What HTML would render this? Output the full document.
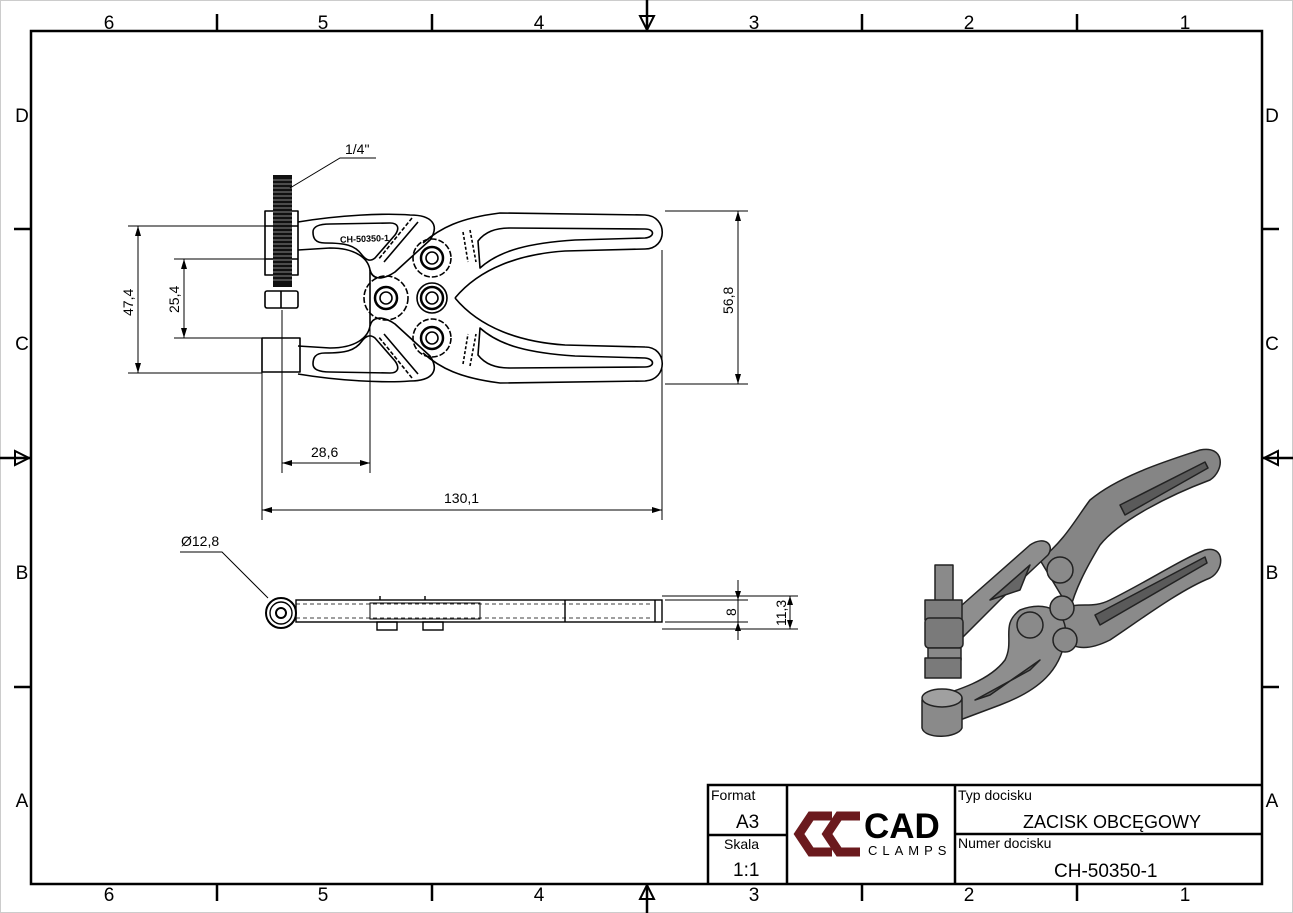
<!DOCTYPE html>
<html><head><meta charset="utf-8"><style>
html,body{margin:0;padding:0;background:#fff}
svg{display:block}
text{font-family:"Liberation Sans","DejaVu Sans",sans-serif;fill:#000}
</style></head><body>
<svg width="1293" height="913" viewBox="0 0 1293 913" xmlns="http://www.w3.org/2000/svg">
<rect x="0.5" y="0.5" width="1292" height="912" fill="#fff" stroke="#ccc"/>
<rect x="31" y="31" width="1231" height="853" fill="none" stroke="#000" stroke-width="2.5"/>
<g stroke="#000" stroke-width="2.5">
<line x1="217" y1="14" x2="217" y2="31"/><line x1="432" y1="14" x2="432" y2="31"/><line x1="862" y1="14" x2="862" y2="31"/><line x1="1077" y1="14" x2="1077" y2="31"/>
<line x1="217" y1="884" x2="217" y2="901"/><line x1="432" y1="884" x2="432" y2="901"/><line x1="862" y1="884" x2="862" y2="901"/><line x1="1077" y1="884" x2="1077" y2="901"/>
<line x1="14" y1="229" x2="31" y2="229"/><line x1="14" y1="687" x2="31" y2="687"/>
<line x1="1262" y1="229" x2="1279" y2="229"/><line x1="1262" y1="687" x2="1279" y2="687"/>
<line x1="647" y1="0" x2="647" y2="31"/><line x1="647" y1="884" x2="647" y2="913"/>
<line x1="0" y1="458" x2="31" y2="458"/><line x1="1262" y1="458" x2="1293" y2="458"/>
</g>
<g fill="none" stroke="#000" stroke-width="2">
<path d="M640 16 L654 16 L647 30 Z"/><path d="M640 899 L654 899 L647 885 Z"/>
<path d="M15 451 L15 465 L29 458 Z"/><path d="M1278 451 L1278 465 L1264 458 Z"/>
</g>
<g font-size="19" text-anchor="middle">
<text x="109" y="29">6</text><text x="323" y="29">5</text><text x="539" y="29">4</text><text x="754" y="29">3</text><text x="969" y="29">2</text><text x="1185" y="29">1</text>
<text x="109" y="901">6</text><text x="323" y="901">5</text><text x="539" y="901">4</text><text x="754" y="901">3</text><text x="969" y="901">2</text><text x="1185" y="901">1</text>
<text x="22" y="122">D</text><text x="22" y="350">C</text><text x="22" y="579">B</text><text x="22" y="807">A</text>
<text x="1272" y="122">D</text><text x="1272" y="350">C</text><text x="1272" y="579">B</text><text x="1272" y="807">A</text>
</g>
<g stroke="#000" stroke-width="2.5" fill="none">
<path d="M708 884 V785 H1262"/><line x1="787" y1="785" x2="787" y2="884"/><line x1="955" y1="785" x2="955" y2="884"/>
<line x1="708" y1="835" x2="787" y2="835"/><line x1="955" y1="834" x2="1262" y2="834"/>
</g>
<g font-size="14"><text x="711" y="800">Format</text><text x="724" y="849">Skala</text><text x="958" y="800">Typ docisku</text><text x="958" y="848">Numer docisku</text></g>
<g font-size="19"><text x="736" y="828">A3</text><text x="733" y="876">1:1</text><text x="1023" y="828" font-size="18">ZACISK OBCĘGOWY</text><text x="1054" y="877">CH-50350-1</text></g>
<g fill="none" stroke="#6b1a1e" stroke-width="9" stroke-linejoin="miter">
<path d="M832 816 L811 816 L799 834 L811 852 L832 852"/>
<path d="M860 816 L839 816 L827 834 L839 852 L860 852"/>
</g>
<text x="864" y="838" font-size="35" font-weight="bold">CAD</text>
<text x="868" y="855" font-size="13" letter-spacing="5">CLAMPS</text>

<g fill="none" stroke="#000" stroke-width="1.6" stroke-linejoin="round">
<path d="M423 243 C440 228 460 218 500 213 L645 215 C668 216 668 249 645 249 L565 251 C520 254 480 268 455 298"/>
<path d="M478 241 C485 232 495 228 510 228 L645 229 C655 229 655 237 645 238 L575 240 C530 243 500 250 480 268 Z"/>
<path d="M470 230 L476 262" stroke-dasharray="3 2"/><path d="M463 232 L468 262" stroke-dasharray="3 2"/>
<path d="M423 353 C440 368 460 378 500 383 L645 381 C668 380 668 347 645 347 L565 345 C520 342 480 328 455 298"/>
<path d="M478 355 C485 364 495 368 510 368 L645 367 C655 367 655 359 645 358 L575 356 C530 353 500 346 480 328 Z"/>
<path d="M470 366 L476 334" stroke-dasharray="3 2"/><path d="M463 364 L468 334" stroke-dasharray="3 2"/>
<path d="M298 222 C340 215 385 213 410 215 C432 215 440 225 430 240 L395 272 C380 282 372 278 370 270 C368 258 355 248 330 248 L298 250"/>
<path d="M313 232 C313 226 320 224 330 224 L390 223 C398 223 400 228 395 235 L375 258 C370 262 366 260 362 255 C355 245 345 243 325 243 C315 243 313 238 313 232 Z"/>
<path d="M412 218 L378 260" stroke-dasharray="4 2"/><path d="M418 222 L384 262"/>
<path d="M298 374 C340 381 385 383 410 381 C432 381 440 371 430 356 L395 324 C380 314 372 318 370 326 C368 338 355 348 330 348 L298 346"/>
<path d="M313 364 C313 370 320 372 330 372 L390 373 C398 373 400 368 395 361 L375 338 C370 334 366 336 362 341 C355 351 345 353 325 353 C315 353 313 358 313 364 Z"/>
<path d="M412 378 L378 336" stroke-dasharray="4 2"/><path d="M418 374 L384 334"/>
<path d="M370 270 L370 326"/>
<circle cx="432" cy="258" r="19" stroke-dasharray="6 2"/><circle cx="432" cy="258" r="11" stroke-width="2.5"/><circle cx="432" cy="258" r="6"/>
<circle cx="386" cy="298" r="22" stroke-dasharray="6 2"/><circle cx="386" cy="298" r="11" stroke-width="2.5"/><circle cx="386" cy="298" r="6"/>
<circle cx="432" cy="298" r="15"/><circle cx="432" cy="298" r="11" stroke-width="2.5"/><circle cx="432" cy="298" r="6"/>
<circle cx="432" cy="338" r="19" stroke-dasharray="6 2"/><circle cx="432" cy="338" r="11" stroke-width="2.5"/><circle cx="432" cy="338" r="6"/>
<rect x="265" y="211" width="33" height="64" fill="#fff"/>
<line x1="265" y1="226" x2="298" y2="226"/><line x1="265" y1="259" x2="298" y2="259"/>
<rect x="265" y="291" width="33" height="17" rx="2"/><line x1="281" y1="291" x2="281" y2="308"/>
<rect x="262" y="338" width="38" height="34"/>
</g>
<rect x="273" y="175" width="19" height="112" fill="#111"/>
<g stroke="#fff" stroke-width="0.6"><path d="M273 180 H292 M273 184 H292 M273 188 H292 M273 192 H292 M273 196 H292 M273 200 H292 M273 204 H292 M273 208 H292 M273 212 H292 M273 216 H292 M273 220 H292 M273 224 H292 M273 228 H292 M273 232 H292 M273 236 H292 M273 240 H292 M273 244 H292 M273 248 H292 M273 252 H292 M273 256 H292 M273 260 H292 M273 264 H292 M273 268 H292 M273 272 H292 M273 276 H292 M273 280 H292"/></g>
<text x="340" y="242" font-size="9" font-weight="bold" transform="rotate(-2 360 240)">CH-50350-1</text>

<g stroke="#000" stroke-width="1" fill="none">
<line x1="128" y1="226" x2="265" y2="226"/><line x1="128" y1="373" x2="262" y2="373"/>
<line x1="138" y1="226" x2="138" y2="373"/>
<line x1="174" y1="259" x2="265" y2="259"/><line x1="174" y1="338" x2="262" y2="338"/>
<line x1="184" y1="259" x2="184" y2="338"/>
<line x1="665" y1="211" x2="748" y2="211"/><line x1="665" y1="384" x2="748" y2="384"/>
<line x1="738" y1="211" x2="738" y2="384"/>
<line x1="282" y1="310" x2="282" y2="473"/><line x1="370" y1="326" x2="370" y2="473"/>
<line x1="282" y1="463" x2="370" y2="463"/>
<line x1="262" y1="372" x2="262" y2="520"/><line x1="662" y1="250" x2="662" y2="520"/>
<line x1="262" y1="510" x2="662" y2="510"/>
<path d="M290 188 L340 158 H376"/>
</g>
<g fill="#000">
<path d="M138 226 l-3 10 h6z"/><path d="M138 373 l-3 -10 h6z"/>
<path d="M184 259 l-3 10 h6z"/><path d="M184 338 l-3 -10 h6z"/>
<path d="M738 211 l-3 10 h6z"/><path d="M738 384 l-3 -10 h6z"/>
<path d="M282 463 l10 -3 v6z"/><path d="M370 463 l-10 -3 v6z"/>
<path d="M262 510 l10 -3 v6z"/><path d="M662 510 l-10 -3 v6z"/>
</g>
<g font-size="14">
<text x="345" y="154">1/4"</text>
<text x="311" y="457">28,6</text><text x="444" y="503">130,1</text>
<text transform="translate(133 316) rotate(-90)">47,4</text>
<text transform="translate(179 313) rotate(-90)">25,4</text>
<text transform="translate(733 314) rotate(-90)">56,8</text>
<text transform="translate(736 616) rotate(-90)">8</text>
<text transform="translate(786 626) rotate(-90)">11,3</text>
<text x="181" y="546">Ø12,8</text>
</g>

<g fill="none" stroke="#000" stroke-width="1.4">
<circle cx="281" cy="613" r="15" stroke-width="2"/><circle cx="281" cy="613" r="11"/><circle cx="281" cy="613" r="5" stroke-width="2"/>
<rect x="296" y="600" width="366" height="22"/>
<line x1="296" y1="604" x2="650" y2="604" stroke-dasharray="4 3" stroke-width="0.8"/>
<line x1="296" y1="618" x2="650" y2="618" stroke-dasharray="4 3" stroke-width="0.8"/>
<rect x="370" y="603" width="110" height="16" stroke-width="1"/>
<rect x="377" y="622" width="20" height="8"/><rect x="423" y="622" width="20" height="8"/>
<line x1="380" y1="596" x2="380" y2="600"/><line x1="425" y1="596" x2="425" y2="600"/>
<line x1="565" y1="600" x2="565" y2="622"/><line x1="655" y1="600" x2="655" y2="622"/>
</g>
<g stroke="#000" stroke-width="1" fill="none">
<path d="M268 598 L222 552 H180"/>
<line x1="665" y1="600" x2="748" y2="600"/><line x1="665" y1="622" x2="748" y2="622"/>
<line x1="738" y1="580" x2="738" y2="640"/>
<line x1="662" y1="596" x2="798" y2="596"/><line x1="662" y1="629" x2="798" y2="629"/>
<line x1="790" y1="596" x2="790" y2="629"/>
</g>
<g fill="#000"><path d="M738 600 l-3 -9 h6z"/><path d="M738 622 l-3 9 h6z"/><path d="M790 596 l-3 9 h6z"/><path d="M790 629 l-3 -9 h6z"/></g>

<g stroke="#222" stroke-width="1.5" stroke-linejoin="round">
<path d="M1040 560 C1065 540 1075 520 1090 500 C1120 475 1170 460 1200 450 C1225 445 1225 470 1210 480 C1170 495 1120 520 1100 545 C1085 570 1075 590 1070 610 Z" fill="#858585"/>
<path d="M1120 505 L1205 462 L1208 468 L1125 515 Z" fill="#5a5a5a"/>
<path d="M1060 610 C1080 600 1090 610 1110 600 C1150 580 1180 560 1205 550 C1225 545 1225 570 1210 578 C1180 590 1140 620 1110 640 C1090 650 1075 650 1065 640 Z" fill="#8a8a8a"/>
<path d="M1095 615 L1205 557 L1207 563 L1100 625 Z" fill="#5a5a5a"/>
<path d="M945 620 L1030 545 C1045 535 1055 545 1048 555 L1000 600 L960 640 Z" fill="#8e8e8e"/>
<path d="M990 600 L1030 565 L1020 590 Z" fill="#666"/>
<path d="M925 700 C960 690 990 680 1005 660 C1015 640 1000 625 1020 610 C1045 600 1070 610 1065 640 C1060 670 1040 690 1000 705 L960 720 Z" fill="#8e8e8e"/>
<path d="M975 700 L1030 670 L1040 660 L990 695 Z" fill="#666"/>
<path d="M922 700 C922 688 960 686 962 698 L962 728 C958 738 925 740 922 728 Z" fill="#8a8a8a"/>
<ellipse cx="942" cy="698" rx="20" ry="9" fill="#a0a0a0"/>
<rect x="935" y="565" width="18" height="40" fill="#8a8a8a"/>
<rect x="925" y="600" width="37" height="20" fill="#7d7d7d"/>
<rect x="925" y="618" width="38" height="30" rx="4" fill="#7a7a7a"/>
<rect x="928" y="648" width="33" height="12" fill="#888"/>
<rect x="925" y="658" width="36" height="20" fill="#7a7a7a"/>
<circle cx="1060" cy="570" r="13" fill="#8a8a8a"/>
<circle cx="1062" cy="608" r="12" fill="#8a8a8a"/>
<circle cx="1030" cy="625" r="13" fill="#8a8a8a"/>
<circle cx="1065" cy="640" r="12" fill="#8a8a8a"/>
</g>
</svg>
</body></html>
